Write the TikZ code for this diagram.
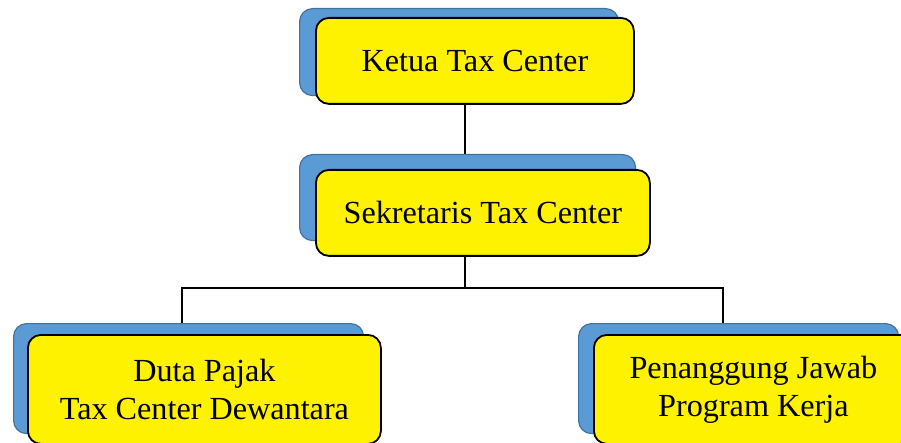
\documentclass[tikz,border=0pt]{standalone}
\usepackage{fontspec}
\setmainfont{Liberation Serif}
\definecolor{boxblue}{HTML}{5B9BD5}
\definecolor{boxblueline}{HTML}{41719C}
\begin{document}
\begin{tikzpicture}[x=1pt,y=-1pt,
  back/.style={draw=boxblueline, fill=boxblue, line width=1.2pt, rounded corners=13pt, inner sep=0pt, anchor=north west},
  front/.style={draw=black, fill=yellow, line width=1.8pt, rounded corners=13pt, inner sep=0pt, anchor=north west, align=center, font=\fontsize{32.2}{38}\selectfont},
  link/.style={draw=black, line width=1.6pt}]
\useasboundingbox (0,0) rectangle (901,443);
\clip (0,0) rectangle (901,443);
% back shapes
\node[back, minimum width=319pt, minimum height=87pt] (ketuab) at (299,8) {};
\node[back, minimum width=336pt, minimum height=86pt] (sekb) at (299,154) {};
\node[back, minimum width=350pt, minimum height=110pt] (dutab) at (13,323) {};
\node[back, minimum width=320pt, minimum height=110pt] (penb) at (578,323) {};
% connector points
\coordinate (j) at (465,288);
\coordinate (jl) at (182,288);
\coordinate (jr) at (723,288);
% front boxes
\node[front, minimum width=318pt, minimum height=86pt] (ketua) at (315,17) {Ketua Tax Center};
\node[front, minimum width=334pt, minimum height=86pt] (sek) at (315,169) {Sekretaris Tax Center};
\node[front, minimum width=353pt, minimum height=109pt] (duta) at (27,334) {Duta Pajak\\Tax Center Dewantara};
\node[front, minimum width=319pt, minimum height=109pt] (pen) at (593,334) {Penanggung Jawab\\Program Kerja};
% connectors
\draw[link] (ketua.south -| j) -- (sekb.north -| j);
\draw[link] (sek.south -| j) -- (j);
\draw[link] (dutab.north -| jl) -- (jl) -- (jr) -- (penb.north -| jr);
\end{tikzpicture}
\end{document}
